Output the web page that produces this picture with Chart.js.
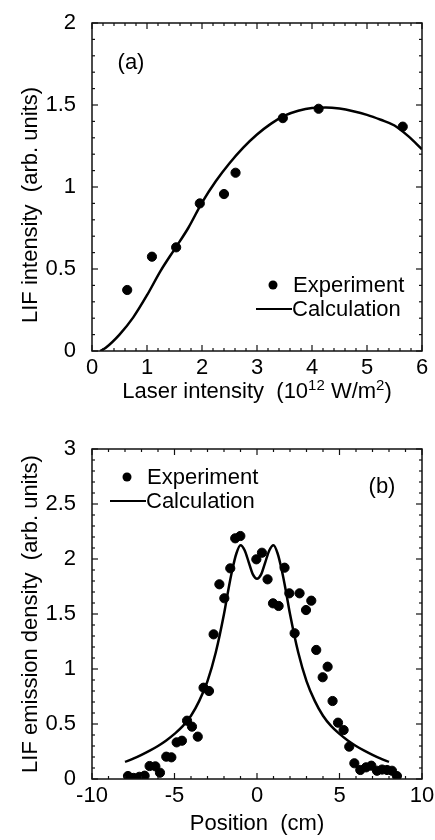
<!DOCTYPE html>
<html>
<head>
<meta charset="utf-8">
<script src="https://cdn.jsdelivr.net/npm/chart.js@4.4.1/dist/chart.umd.min.js"></script>
<style>
  html, body { margin: 0; padding: 0; background: #fff; }
  .panel { position: absolute; left: 0; width: 435px; height: 420px; }
</style>
</head>
<body>
<div class="panel" style="top:0"><canvas id="chartA" width="435" height="420"></canvas></div>
<div class="panel" style="top:420px"><canvas id="chartB" width="435" height="420"></canvas></div>
<script>
// (a) LIF intensity vs laser intensity (10^12 W/m^2)
const laserIntensity = [0.64, 1.09, 1.53, 1.96, 2.40, 2.61, 3.47, 4.12, 5.65];
const lifIntensity   = [0.372, 0.575, 0.632, 0.90, 0.957, 1.087, 1.42, 1.477, 1.368];
const calcLaserX = [0.15, 0.25, 0.5, 0.75, 1.0, 1.25, 1.5, 1.75, 2.0, 2.25, 2.5, 2.75, 3.0,
                    3.25, 3.5, 3.75, 4.0, 4.25, 4.5, 4.75, 5.0, 5.25, 5.5, 5.75, 6.0];
const calcLaserY = [0, 0.02, 0.10, 0.205, 0.34, 0.49, 0.62, 0.75, 0.905, 1.035, 1.145, 1.24, 1.32,
                    1.385, 1.435, 1.465, 1.482, 1.485, 1.478, 1.462, 1.44, 1.41, 1.375, 1.31, 1.23];

// (b) LIF emission density vs position (cm)
const position = [-7.82, -7.48, -7.13, -6.81, -6.51, -6.16, -5.88, -5.50, -5.19, -4.87, -4.55, -4.24,
                  -3.94, -3.59, -3.24, -2.91, -2.63, -2.28, -1.98, -1.62, -1.32, -1.01, -0.04, 0.30,
                  0.64, 0.97, 1.31, 1.67, 1.96, 2.28, 2.58, 2.97, 3.29, 3.59, 3.98, 4.28, 4.58, 4.91,
                  5.25, 5.59, 5.90, 6.26, 6.61, 6.93, 7.27, 7.58, 7.88, 8.18, 8.48];
const emission = [0.027, 0.01, 0.02, 0.03, 0.118, 0.115, 0.057, 0.203, 0.197, 0.333, 0.348, 0.53,
                  0.476, 0.385, 0.83, 0.80, 1.315, 1.77, 1.643, 1.915, 2.188, 2.209, 1.997, 2.057,
                  1.815, 1.597, 1.573, 1.921, 1.688, 1.325, 1.688, 1.536, 1.621, 1.173, 0.925, 1.021,
                  0.709, 0.512, 0.445, 0.294, 0.143, 0.082, 0.106, 0.121, 0.075, 0.086, 0.082, 0.075, 0.027];
const calcPosX = [-8, -7.5, -7, -6.5, -6, -5.5, -5, -4.5, -4, -3.5, -3, -2.5, -2, -1.75, -1.5, -1.25,
                  -1, -0.75, -0.5, -0.25, 0, 0.25, 0.5, 0.75, 1, 1.25, 1.5, 1.75, 2, 2.5, 3, 3.5,
                  4, 4.5, 5, 5.5, 6, 6.5, 7, 7.5, 8];
const calcPosY = [0.155, 0.185, 0.22, 0.258, 0.30, 0.35, 0.41, 0.48, 0.575, 0.71, 0.89, 1.15, 1.50, 1.71,
                  1.90, 2.05, 2.125, 2.08, 1.97, 1.86, 1.82, 1.86, 1.97, 2.08, 2.125, 2.05, 1.90, 1.71,
                  1.50, 1.15, 0.89, 0.71, 0.575, 0.48, 0.41, 0.35, 0.30, 0.258, 0.22, 0.185, 0.155];

const FONT = "'Liberation Sans', Arial, sans-serif";
const SIZE = 22;
Chart.defaults.font.family = FONT;
Chart.defaults.font.size = SIZE;
Chart.defaults.color = '#000';

const toPoints = (xs, ys) => xs.map((v, i) => ({ x: v, y: ys[i] }));

// frame with inward ticks on all four sides, plus in-plot text
const framePlugin = {
  id: 'frame',
  afterDraw(chart, args, opts) {
    const { ctx, chartArea: a, scales: { x, y } } = chart;
    ctx.save();
    ctx.strokeStyle = '#111';
    ctx.lineWidth = 1.5;
    ctx.strokeRect(a.left, a.top, a.right - a.left, a.bottom - a.top);

    ctx.lineWidth = 1.2;
    const line = (x1, y1, x2, y2) => { ctx.beginPath(); ctx.moveTo(x1, y1); ctx.lineTo(x2, y2); ctx.stroke(); };
    const isMajor = (scale, v) => scale.ticks.some(t => Math.abs(t.value - v) < 1e-6);
    for (let v = x.min; v <= x.max + 1e-9; v += opts.xMinor) {
      const px = x.getPixelForValue(v);
      const len = isMajor(x, v) ? 6 : 3;
      line(px, a.bottom, px, a.bottom - len);
      line(px, a.top, px, a.top + len);
    }
    for (let v = y.min; v <= y.max + 1e-9; v += opts.yMinor) {
      const py = y.getPixelForValue(v);
      const len = isMajor(y, v) ? 6 : 3;
      line(a.left, py, a.left + len, py);
      line(a.right, py, a.right - len, py);
    }

    ctx.fillStyle = '#000';
    ctx.strokeStyle = '#000';
    ctx.font = SIZE + 'px ' + FONT;
    ctx.textBaseline = 'middle';

    // panel tag
    ctx.textAlign = 'center';
    ctx.fillText(opts.tag.text, opts.tag.x, opts.tag.y);

    // legend
    const lg = opts.legend;
    ctx.textAlign = 'left';
    ctx.beginPath();
    ctx.arc(lg.x + 27, lg.y, 4.5, 0, Math.PI * 2);
    ctx.fill();
    ctx.fillText('Experiment', lg.x + 47, lg.y + 1);
    ctx.lineWidth = 2.2;
    line(lg.x + 10, lg.y + 24, lg.x + 46, lg.y + 24);
    ctx.fillText('Calculation', lg.x + 46, lg.y + 25);

    // y title
    ctx.save();
    ctx.translate(opts.yTitle.x, opts.yTitle.y);
    ctx.rotate(-Math.PI / 2);
    ctx.textAlign = 'center';
    ctx.textBaseline = 'alphabetic';
    ctx.fillText(opts.yTitle.text, 0, 0);
    ctx.restore();

    // x title, parts may be superscripted
    const parts = opts.xTitle.parts;
    const fontOf = p => (p.sup ? '15px ' : SIZE + 'px ') + FONT;
    let total = 0;
    parts.forEach(p => { ctx.font = fontOf(p); total += ctx.measureText(p.t).width; });
    let cx = opts.xTitle.x - total / 2;
    ctx.textAlign = 'left';
    ctx.textBaseline = 'alphabetic';
    parts.forEach(p => {
      ctx.font = fontOf(p);
      ctx.fillText(p.t, cx, opts.xTitle.y - (p.sup ? 8 : 0));
      cx += ctx.measureText(p.t).width;
    });
    ctx.restore();
  }
};

function makeChart(id, cfg) {
  return new Chart(document.getElementById(id), {
    type: 'scatter',
    data: {
      datasets: [{
        label: 'Experiment',
        data: cfg.points,
        backgroundColor: '#000',
        borderColor: '#000',
        pointRadius: 4.6,
        pointHoverRadius: 4.6
      }, {
        label: 'Calculation',
        data: cfg.curve,
        showLine: true,
        borderColor: '#000',
        borderWidth: 2.5,
        pointRadius: 0,
        cubicInterpolationMode: 'monotone'
      }]
    },
    options: {
      responsive: false,
      animation: false,
      layout: { padding: { left: 0, top: cfg.top, right: 13, bottom: 0 } },
      scales: {
        x: {
          min: cfg.xMin, max: cfg.xMax,
          ticks: { stepSize: cfg.xStep, padding: -4, maxRotation: 0, callback: v => String(v) },
          grid: { display: false },
          border: { display: false },
          afterFit: s => { s.height = cfg.xHeight; }
        },
        y: {
          min: cfg.yMin, max: cfg.yMax,
          ticks: { stepSize: 0.5, padding: 8, callback: v => String(v) },
          grid: { display: false },
          border: { display: false },
          afterFit: s => { s.width = 92; }
        }
      },
      plugins: {
        legend: { display: false },
        tooltip: { enabled: false },
        frame: cfg.frame
      }
    },
    plugins: [framePlugin]
  });
}

makeChart('chartA', {
  points: toPoints(laserIntensity, lifIntensity),
  curve: toPoints(calcLaserX, calcLaserY),
  xMin: 0, xMax: 6, xStep: 1, yMin: 0, yMax: 2,
  top: 23, xHeight: 69,
  frame: {
    xMinor: 0.2, yMinor: 0.1,
    tag: { text: '(a)', x: 131, y: 63 },
    legend: { x: 246, y: 285 },
    yTitle: { text: 'LIF intensity  (arb. units)', x: 37, y: 205 },
    xTitle: { x: 257, y: 398, parts: [
      { t: 'Laser intensity  (10' }, { t: '12', sup: true }, { t: ' W/m' }, { t: '2', sup: true }, { t: ')' }
    ] }
  }
});

makeChart('chartB', {
  points: toPoints(position, emission),
  curve: toPoints(calcPosX, calcPosY),
  xMin: -10, xMax: 10, xStep: 5, yMin: 0, yMax: 3,
  top: 29, xHeight: 61,
  frame: {
    xMinor: 1, yMinor: 0.1,
    tag: { text: '(b)', x: 382, y: 67 },
    legend: { x: 100, y: 57 },
    yTitle: { text: 'LIF emission density  (arb. units)', x: 37, y: 194 },
    xTitle: { x: 257, y: 410, parts: [ { t: 'Position  (cm)' } ] }
  }
});
</script>
</body>
</html>
